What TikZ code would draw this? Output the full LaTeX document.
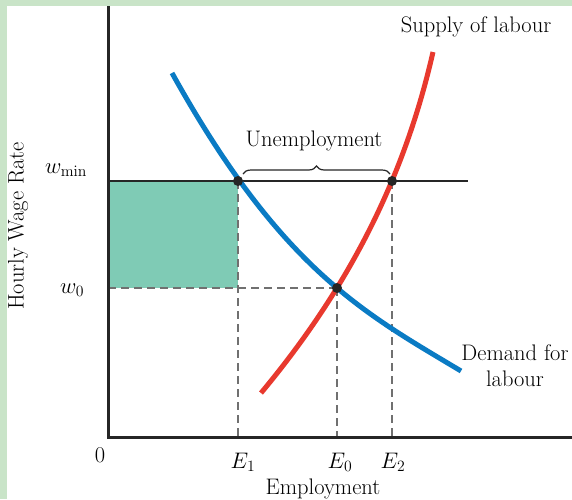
\RequirePackage{fix-cm}
\documentclass[tikz,border=0pt]{standalone}
\usetikzlibrary{decorations.pathreplacing}
\definecolor{bggreen}{HTML}{C9E4C8}
\definecolor{fillgreen}{HTML}{7FCBB5}
\definecolor{demandblue}{HTML}{0A7BC4}
\definecolor{supplyred}{HTML}{E8392E}
\definecolor{dashgray}{HTML}{707070}
\tikzset{
  lbl/.style={font=\fontsize{22.5}{26}\selectfont, text=black, inner sep=0pt, align=center},
  dot/.style={circle, fill=black!85, minimum size=10pt, inner sep=0pt},
  guide/.style={draw=dashgray, line width=1.3pt, dash pattern=on 8pt off 5pt},
  axisline/.style={draw=black!85, line width=3pt},
  curve/.style={line width=5pt}
}
\begin{document}
\begin{tikzpicture}[x=1pt,y=-1pt]
\useasboundingbox (0,0) rectangle (572,499);
\fill[bggreen] (0,0) rectangle (572,499);
\fill[white] (7,6) rectangle (572,499);
% coordinates
\coordinate (origin) at (108,437);
\coordinate (ytop) at (108,6);
\coordinate (xend) at (572,437);
\coordinate (ywmin) at (108,181);
\coordinate (yw0) at (108,288);
\coordinate (xE1) at (238,437);
\coordinate (xE0) at (337,437);
\coordinate (xE2) at (392,437);
\coordinate (hend) at (468,181);
% shaded area
\fill[fillgreen] (ywmin) rectangle (238,288);
% dashed guides
\draw[guide] (yw0) -- (337,288);
\draw[guide] (238,181) -- (xE1);
\draw[guide] (337,288) -- (xE0);
\draw[guide] (392,181) -- (xE2);
% minimum wage line
\draw[draw=black!85, line width=2.5pt] (ywmin) -- (hend);
% curves
\draw[curve, demandblue] (172,73) .. controls (282,271) and (366,314) .. (461,371);
\draw[curve, supplyred] (261,393) .. controls (351,285) and (405,175) .. (433,52);
% axes
\draw[axisline] (ytop) -- (origin) -- (xend);
% dots
\node[dot] (p1) at (238,181) {};
\node[dot] (p2) at (392,181) {};
\node[dot] (p0) at (337,288) {};
% brace
\draw[black!85, line width=1.2pt, decorate, decoration={brace, amplitude=8pt}] ([xshift=5pt,yshift=7pt]p1.center) -- ([xshift=-2pt,yshift=7pt]p2.center);
% labels
\node[lbl] (unemp) at (314,141) {Unemployment};
\node[lbl] (supply) at (476,27) {Supply of labour};
\node[lbl] (demand) at (515,366) {Demand for\\labour};
\node[lbl] (wmin) at (66,170) {$w_{\min}$};
\node[lbl] (w0) at (72,290) {$w_0$};
\node[lbl] (zero) at (100,455) {0};
\node[lbl] (e1) at (243,462) {$E_1$};
\node[lbl] (e0) at (340,462) {$E_0$};
\node[lbl] (e2) at (393,462) {$E_2$};
\node[lbl] (employ) at (323,489) {Employment};
\node[lbl, rotate=90] (hourly) at (18,226) {Hourly Wage Rate};
\end{tikzpicture}
\end{document}
